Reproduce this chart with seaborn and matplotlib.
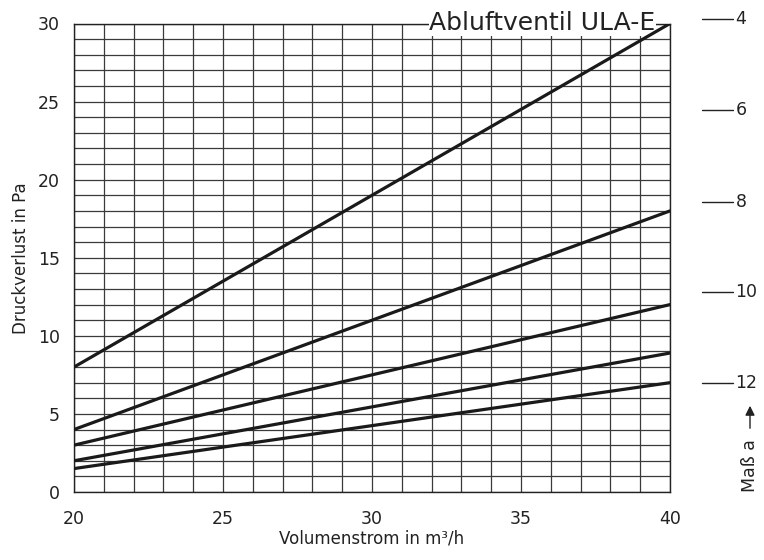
import matplotlib
matplotlib.use("Agg")
import matplotlib.pyplot as plt
import seaborn as sns
import pandas as pd
import numpy as np

# Data
sizes = ["4", "6", "8", "10", "12"]          # Maß a
flow = [20, 40]                               # Volumenstrom in m³/h
pressure = {
    "4": [8.0, 30.0],
    "6": [4.0, 18.0],
    "8": [3.0, 12.0],
    "10": [2.0, 8.9],
    "12": [1.5, 7.0],
}
label_pos = {"4": 30.3, "6": 24.45, "8": 18.6, "10": 12.8, "12": 7.0}  # right-side labels (data y)
x_ticks = [20, 25, 30, 35, 40]
y_ticks = [0, 5, 10, 15, 20, 25, 30]

rows = []
for s in sizes:
    for x, y in zip(flow, pressure[s]):
        rows.append({"a": s, "flow": x, "dp": y})
df = pd.DataFrame(rows)

sns.set_theme(style="white")
plt.rcParams["font.family"] = ["DejaVu Sans"]

fig = plt.figure(figsize=(7.64, 5.6), dpi=100)
ax = fig.add_axes([74/764, 68/560, 596/764, 468.5/560])

sns.lineplot(data=df, x="flow", y="dp", hue="a", palette=["#1a1a1a"]*5,
             linewidth=2.3, legend=False, ax=ax, zorder=4)

ax.set_xlim(20, 40)
ax.set_ylim(0, 30)
ax.set_xticks(x_ticks)
ax.set_yticks(y_ticks)
ax.set_xticks(np.arange(20, 41, 1), minor=True)
ax.set_yticks(np.arange(0, 31, 1), minor=True)
ax.grid(which="both", color="#3a3a3a", linewidth=0.9)
ax.set_axisbelow(True)
ax.tick_params(which="both", length=0, labelsize=12.5, colors="#222222")
ax.tick_params(axis="x", pad=13)
ax.tick_params(axis="y", pad=10)
for sp in ax.spines.values():
    sp.set_color("#222222")
    sp.set_linewidth(1.0)

ax.set_xlabel("Volumenstrom in m³/h", fontsize=12, color="#222222", labelpad=1)
ax.set_ylabel("Druckverlust in Pa", fontsize=12, color="#222222", labelpad=6)

ax.text(0.976, 1.0, "Abluftventil ULA-E", transform=ax.transAxes,
        ha="right", va="center", fontsize=18, color="#222222", zorder=3,
        bbox=dict(facecolor="white", edgecolor="none", pad=0.5))

# Right side size scale
for s in sizes:
    yd = label_pos[s]
    ax.plot([41.07, 42.1], [yd, yd], color="#222222", linewidth=1.0, clip_on=False)
    ax.text(42.2, yd, s, ha="left", va="center", fontsize=12.5, color="#222222", clip_on=False)

fig.text(750/764, 1 - 466/560, "Maß a", rotation=90, ha="center", va="center",
         fontsize=12.5, color="#222222")
ax.annotate("", xy=(750/764, 1 - 403/560), xytext=(750/764, 1 - 431/560),
            xycoords="figure fraction", textcoords="figure fraction",
            arrowprops=dict(arrowstyle="-|>", color="#222222", lw=1.0, mutation_scale=14))

fig.savefig("out.png", dpi=100)
